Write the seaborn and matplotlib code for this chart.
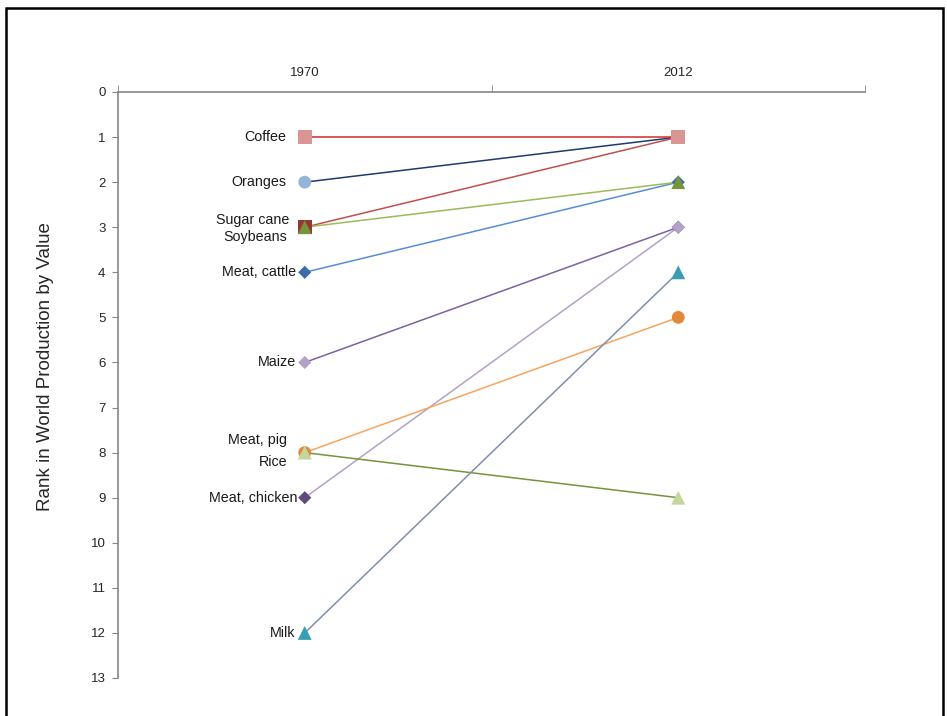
import matplotlib
matplotlib.use("Agg")
import matplotlib.pyplot as plt
from matplotlib.patches import Rectangle
import seaborn as sns
import pandas as pd

# ---- data ----
years = ["1970", "2012"]
items = ["Oranges", "Sugar cane", "Coffee", "Meat, cattle", "Soybeans",
         "Meat, chicken", "Maize", "Meat, pig", "Rice", "Milk"]
rank_1970 = [2, 3, 1, 4, 3, 9, 6, 8, 8, 12]
rank_2012 = [1, 1, 1, 2, 2, 3, 3, 5, 9, 4]
y_ticks = list(range(0, 14))

# ---- styles ----
line_colors = {"Coffee": "#D42A2A", "Oranges": "#1F3A6E", "Sugar cane": "#C0504D",
               "Soybeans": "#9BBB59", "Meat, cattle": "#558ED5", "Maize": "#7D60A0",
               "Meat, pig": "#F5A55E", "Rice": "#77933C", "Meat, chicken": "#B3A2C7",
               "Milk": "#7F8FA9"}
marker_colors = {"Coffee": "#D99694", "Oranges": "#95B3D7", "Sugar cane": "#953735",
                 "Soybeans": "#77933C", "Meat, cattle": "#3D6CA8", "Maize": "#B3A2C7",
                 "Meat, pig": "#E3873A", "Rice": "#C3D69B", "Meat, chicken": "#604A7B",
                 "Milk": "#3A9DB5"}
markers = {"Coffee": "s", "Oranges": "o", "Sugar cane": "s", "Soybeans": "^",
           "Meat, cattle": "D", "Maize": "D", "Meat, pig": "o", "Rice": "^",
           "Meat, chicken": "D", "Milk": "^"}
msize = {"s": 95, "o": 85, "^": 100, "D": 45}
label_dy = {"Sugar cane": -0.17, "Soybeans": 0.22, "Meat, pig": -0.27, "Rice": 0.2}
label_dx = {"Coffee": -13.5, "Oranges": -13.5, "Sugar cane": -11, "Soybeans": -12.5,
            "Meat, cattle": -6.5, "Maize": -6.5, "Meat, pig": -12.5, "Rice": -12.5,
            "Meat, chicken": -5, "Milk": -6.5}

rows = []
for it, a, b in zip(items, rank_1970, rank_2012):
    rows.append({"item": it, "pos": 0.5, "rank": a})
    rows.append({"item": it, "pos": 1.5, "rank": b})
df = pd.DataFrame(rows)

sns.set_style("white")
plt.rcParams["font.family"] = ["Liberation Sans", "DejaVu Sans"]

fig = plt.figure(figsize=(9.47, 7.16), dpi=100)
ax = fig.add_axes([118 / 947, 1 - 678 / 716, (865 - 118) / 947, (678 - 92) / 716])

for it in items:
    sub = df[df["item"] == it]
    sns.lineplot(data=sub, x="pos", y="rank", color=line_colors[it], lw=1.1,
                 ax=ax, legend=False, zorder=2, sort=False)
for it in items:
    sub = df[df["item"] == it]
    m = markers[it]
    sns.scatterplot(data=sub, x="pos", y="rank", marker=m, s=msize[m],
                    color=marker_colors[it], edgecolor="none", linewidth=0,
                    ax=ax, legend=False, zorder=3)

for it, a in zip(items, rank_1970):
    ax.annotate(it, xy=(0.5, a + label_dy.get(it, 0)), xytext=(label_dx[it], 0),
                textcoords="offset points", ha="right", va="center",
                fontsize=10.3, color="#1a1a1a")

ax.set_xlim(0, 2)
ax.set_ylim(13, 0)
ax.set_yticks(y_ticks)
ax.set_yticklabels([str(t) for t in y_ticks], fontsize=9.5, color="#262626")
ax.set_xticks([0.5, 1.5])
ax.set_xticklabels(years, fontsize=9.5, color="#262626")
ax.set_xticks([0, 1, 2], minor=True)
ax.xaxis.tick_top()
ax.tick_params(axis="x", which="major", length=0, pad=9)
ax.tick_params(axis="x", which="minor", length=5, color="#868686", top=True, bottom=False)
ax.tick_params(axis="y", which="major", length=4, color="#868686", left=True, pad=5)
ax.set_xlabel("")
ax.set_ylabel("Rank in World Production by Value", fontsize=13.5)
ax.yaxis.set_label_coords(-0.086, 0.531)

for s in ["right", "bottom"]:
    ax.spines[s].set_visible(False)
for s in ["top", "left"]:
    ax.spines[s].set_color("#868686")
    ax.spines[s].set_linewidth(1.2)

fig.patches.append(Rectangle((6 / 947, -0.05), (943 - 6) / 947, 1 - 8 / 716 + 0.05,
                             transform=fig.transFigure, fill=False,
                             edgecolor="black", linewidth=1.8))

fig.savefig("out.png", dpi=100)
